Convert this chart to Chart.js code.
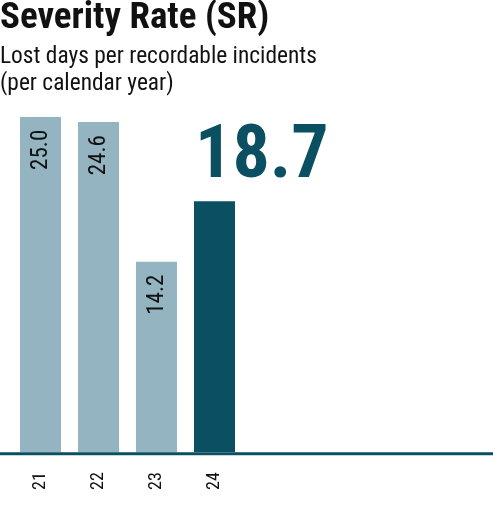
<!DOCTYPE html>
<html>
<head>
<meta charset="utf-8">
<script src="https://cdn.jsdelivr.net/npm/chart.js@4.4.1/dist/chart.umd.min.js"></script>
<style>
  html, body { margin: 0; padding: 0; background: #fff; }
  #wrap { width: 493px; height: 527px; }
</style>
</head>
<body>
<div id="wrap"><canvas id="sr-chart"></canvas></div>
<script>
  // datos del gráfico
  const years = ['21', '22', '23', '24'];
  const severity = [25.0, 24.6, 14.2, 18.7];

  const FONT = "'Liberation Sans Narrow', 'Roboto Condensed', 'DejaVu Sans Condensed', Roboto, sans-serif";
  const LIGHT = '#94b4c1';
  const DARK = '#0b5062';
  const last = years.length - 1;

  // etiquetas de valor y línea base
  const labelsPlugin = {
    id: 'srLabels',
    afterDatasetsDraw(chart) {
      const ctx = chart.ctx;
      const meta = chart.getDatasetMeta(0);
      meta.data.forEach((bar, i) => {
        const txt = severity[i].toFixed(1);
        ctx.save();
        if (i === last) {
          ctx.fillStyle = DARK;
          ctx.font = 'bold 74px ' + FONT;
          ctx.textAlign = 'left';
          ctx.textBaseline = 'alphabetic';
          ctx.fillText(txt, bar.x - bar.width / 2 + 1, bar.y - 24);
        } else {
          ctx.fillStyle = '#111';
          ctx.font = '23px ' + FONT;
          ctx.translate(bar.x + 1, bar.y + 13);
          ctx.rotate(-Math.PI / 2);
          ctx.textAlign = 'right';
          ctx.textBaseline = 'middle';
          ctx.fillText(txt, 0, 0);
        }
        ctx.restore();
      });
      const y0 = chart.scales.y.getPixelForValue(0);
      ctx.save();
      ctx.fillStyle = DARK;
      ctx.fillRect(0, y0, chart.width, 3);
      ctx.restore();
    }
  };

  new Chart(document.getElementById('sr-chart'), {
    type: 'bar',
    data: {
      labels: years,
      datasets: [{
        data: severity,
        backgroundColor: years.map((y, i) => i === last ? DARK : LIGHT),
        borderWidth: 0,
        barPercentage: 0.707,
        categoryPercentage: 1
      }]
    },
    options: {
      responsive: true,
      maintainAspectRatio: false,
      animation: false,
      layout: { padding: { left: 0, right: 0, top: 0, bottom: 25 } },
      plugins: {
        legend: { display: false },
        tooltip: { enabled: false },
        title: {
          display: true,
          text: 'Severity Rate (SR)',
          align: 'start',
          color: '#111',
          font: { family: FONT, size: 37, weight: 'bold', lineHeight: 1.0 },
          padding: { top: 0, bottom: 6 }
        },
        subtitle: {
          display: true,
          text: ['Lost days per recordable incidents', '(per calendar year)'],
          align: 'start',
          color: '#111',
          font: { family: FONT, size: 23.4, lineHeight: 1.17 },
          padding: { top: 0, bottom: 19 }
        }
      },
      scales: {
        x: {
          grid: { display: false },
          border: { display: false },
          ticks: {
            color: '#111',
            font: { family: FONT, size: 18 },
            minRotation: 90,
            maxRotation: 90,
            padding: 12
          }
        },
        y: {
          min: 0,
          max: 25,
          grid: { display: false },
          border: { display: false },
          ticks: { display: false },
          afterFit(scale) { scale.width = 11.5; }
        },
        yRight: {
          position: 'right',
          grid: { display: false },
          border: { display: false },
          ticks: { display: false },
          afterFit(scale) { scale.width = 249.5; }
        }
      }
    },
    plugins: [labelsPlugin]
  });
</script>
</body>
</html>
